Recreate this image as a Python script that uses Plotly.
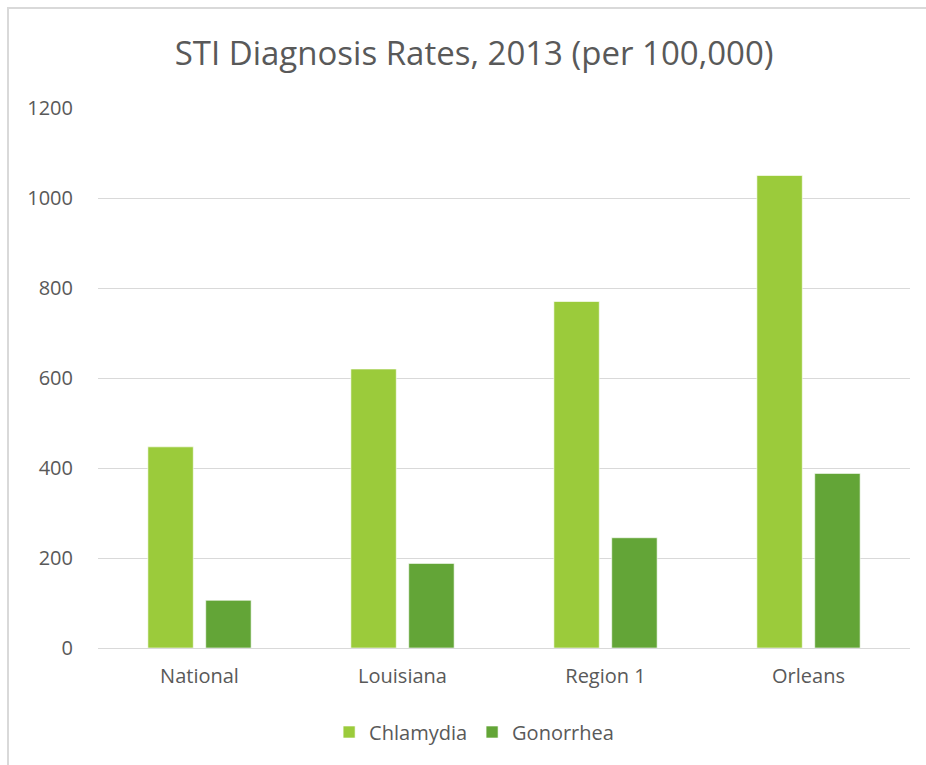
import plotly.graph_objects as go

# Chart data
regions = ["National", "Louisiana", "Region 1", "Orleans"]
chlamydia = [447, 620, 770, 1050]
gonorrhea = [106, 188, 245, 388]
y_ticks = [0, 200, 400, 600, 800, 1000, 1200]

TEXT = "#595959"
GRID = "#D9D9D9"
FONT = "Open Sans, Liberation Sans, sans-serif"

fig = go.Figure()
fig.add_trace(go.Bar(
    x=regions, y=chlamydia, name="Chlamydia",
    marker=dict(color="#9BCB3B", line=dict(color="rgba(255,255,255,0.6)", width=1)),
))
fig.add_trace(go.Bar(
    x=regions, y=gonorrhea, name="Gonorrhea",
    marker=dict(color="#63A537", line=dict(color="rgba(255,255,255,0.6)", width=1)),
))

fig.update_layout(
    width=926, height=765,
    margin=dict(l=98, r=16, t=108, b=117),
    paper_bgcolor="white", plot_bgcolor="white",
    font=dict(family=FONT, color=TEXT, size=20),
    barmode="group", bargap=0.43, bargroupgap=0.215,
    title=dict(
        text="STI Diagnosis Rates, 2013 (per 100,000)",
        x=0.512, xref="container", xanchor="center",
        y=1 - 53 / 765, yref="container", yanchor="middle",
        font=dict(size=33, color=TEXT, family=FONT),
    ),
    legend=dict(
        orientation="h", x=0.512, xref="container", xanchor="center",
        y=1 - 732 / 765, yref="container", yanchor="middle",
        font=dict(size=20, color=TEXT), itemwidth=30,
    ),
    showlegend=True,
)

fig.update_yaxes(
    range=[0, 1200], tickvals=y_ticks, showgrid=True, gridcolor=GRID, gridwidth=1,
    zeroline=True, zerolinecolor=GRID, zerolinewidth=1, showline=False,
    ticks="", ticklabelstandoff=24, tickfont=dict(size=20, color=TEXT),
)
fig.update_xaxes(
    showgrid=False, showline=False, ticks="", ticklabelstandoff=14,
    tickfont=dict(size=20, color=TEXT),
)

# Outer frame of the chart (right and bottom edges fall outside the view)
fig.add_shape(
    type="rect", xref="paper", yref="paper",
    x0=-90 / 812, x1=1.2, y0=-0.4, y1=1 + 100 / 540,
    line=dict(color=GRID, width=2), fillcolor="rgba(0,0,0,0)", layer="below",
)

fig.write_html("out.html")
